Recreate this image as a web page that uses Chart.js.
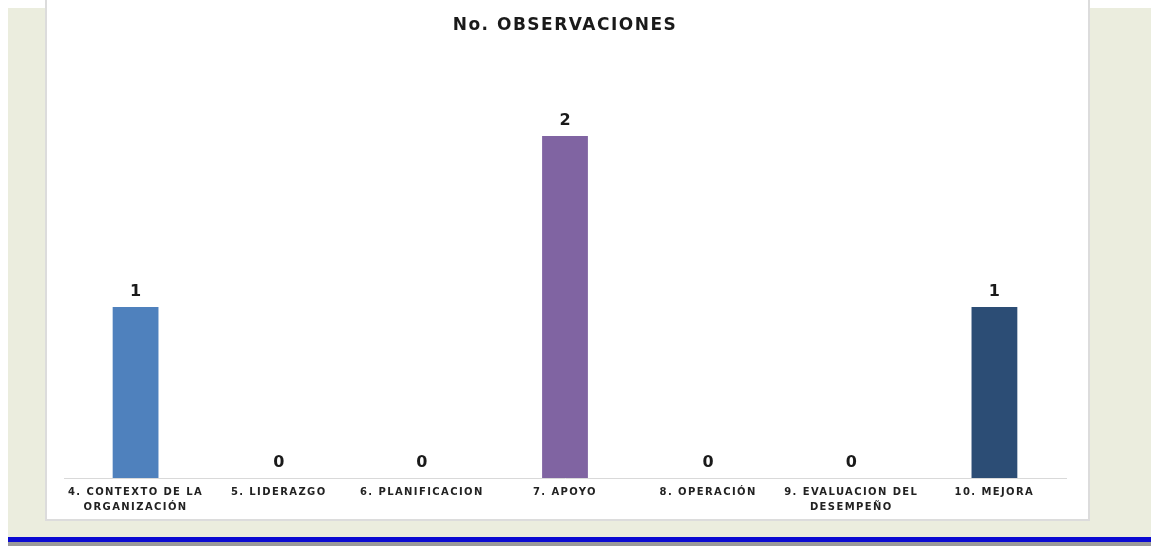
<!DOCTYPE html>
<html>
<head>
<meta charset="utf-8">
<script src="https://cdn.jsdelivr.net/npm/chart.js@4/dist/chart.umd.min.js"></script>
<style>
  body { margin: 0; width: 1151px; height: 546px; background: #fff; position: relative; overflow: hidden; }
  .bg { position: absolute; left: 8px; top: 8px; right: 0; height: 529px; background: #EBEDDE; }
  .blue { position: absolute; left: 8px; right: 0; top: 537px; height: 5px; background: #0A0AD2; }
  .gray { position: absolute; left: 8px; right: 0; top: 542px; height: 4px; background: #9A9A9A; }
  .panel { position: absolute; left: 45px; top: 0; width: 1041px; height: 519px; background: #fff;
    border-left: 2px solid #DCDCDC; border-right: 2px solid #DCDCDC; border-bottom: 2px solid #DCDCDC; }
  .wrap { position: absolute; left: 0; top: 0; width: 1041px; height: 523px; }
</style>
</head>
<body>
<div class="bg"></div>
<div class="blue"></div>
<div class="gray"></div>
<div class="panel"><div class="wrap"><canvas class="chart"></canvas></div></div>
<script>
// datos del gráfico
const titulo = "No. OBSERVACIONES";
const categorias = [
  ["4. CONTEXTO DE LA", "ORGANIZACIÓN"],
  "5. LIDERAZGO",
  "6. PLANIFICACION",
  "7. APOYO",
  "8. OPERACIÓN",
  ["9. EVALUACION DEL", "DESEMPEÑO"],
  "10. MEJORA"
];
const observaciones = [1, 0, 0, 2, 0, 0, 1];
const colores = ["#4F81BD", "#C0504D", "#9BBB59", "#8064A2", "#4BACC6", "#F79646", "#2C4D75"];

// espaciado de letras, titulo y etiquetas de valor
const valueLabels = {
  id: "valueLabels",
  beforeDraw: (chart) => {
    chart.ctx.letterSpacing = "1.4px";
  },
  afterDatasetsDraw: (chart) => {
    const ctx = chart.ctx;
    ctx.save();
    ctx.letterSpacing = "0px";
    ctx.font = "bold 16px 'DejaVu Sans'";
    ctx.fillStyle = "#1a1a1a";
    ctx.textAlign = "center";
    ctx.textBaseline = "middle";
    chart.getDatasetMeta(0).data.forEach((bar, idx) => {
      ctx.fillText(observaciones[idx], bar.x, bar.y - 15);
    });
    // titulo
    ctx.letterSpacing = "1.5px";
    ctx.font = "bold 17px 'DejaVu Sans'";
    const area = chart.chartArea;
    ctx.fillText(titulo, (area.left + area.right) / 2, 26);
    ctx.restore();
  }
};

const ctx = document.querySelector(".chart");
const myChart = new Chart(ctx, {
  type: "bar",
  data: {
    labels: categorias,
    datasets: [
      {
        label: titulo,
        data: observaciones,
        backgroundColor: colores,
        categoryPercentage: 0.8,
        barPercentage: 0.4,
      },
    ],
  },
  options: {
    responsive: true,
    maintainAspectRatio: false,
    animation: false,
    layout: { padding: { left: 17, right: 22, top: 50.5, bottom: 1 } },
    plugins: {
      legend: { display: false },
      tooltip: { enabled: false },
      title: { display: false },
    },
    scales: {
      x: {
        grid: { display: false, drawTicks: false },
        border: { display: true, color: "#D9D9D9", width: 1 },
        ticks: {
          color: "#222",
          font: { family: "'DejaVu Sans'", size: 10, weight: "bold", lineHeight: 1.5 },
          padding: 7,
          maxRotation: 0,
          autoSkip: false,
        },
      },
      y: {
        display: false,
        min: 0,
        max: 2.5,
      },
    },
  },
  plugins: [valueLabels],
});
</script>
</body>
</html>
